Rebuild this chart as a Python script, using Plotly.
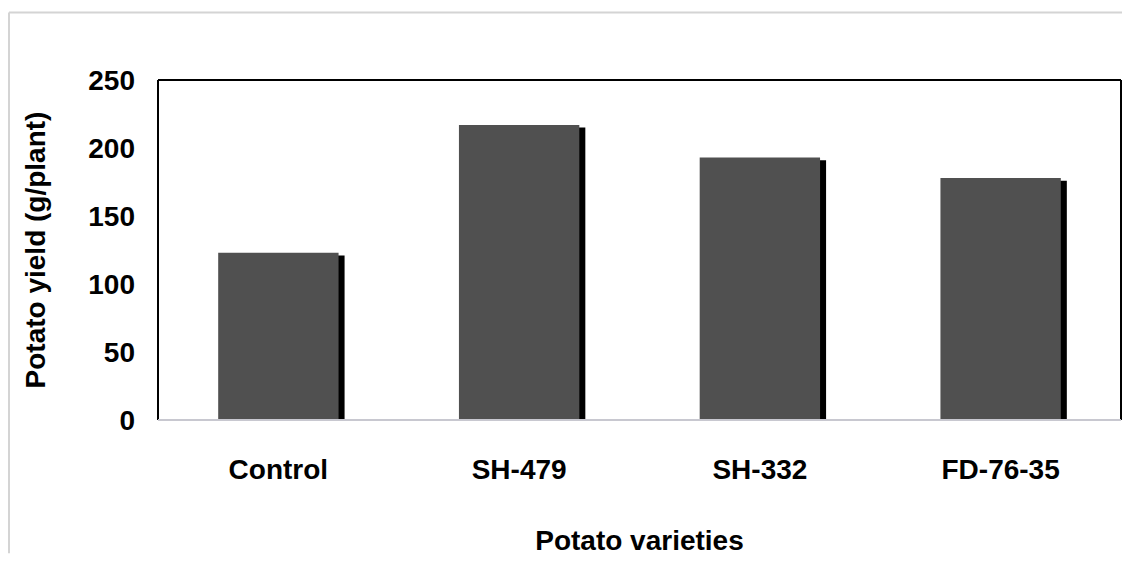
import plotly.graph_objects as go

varieties = ["Control", "SH-479", "SH-332", "FD-76-35"]
yield_g = [123, 217, 193, 178]
y_ticks = [0, 50, 100, 150, 200, 250]

FONT = "Liberation Sans, Arial, sans-serif"
# page has an 8px body margin round the figure
W, H = 1114, 548
L, R, T, B = 150, 1, 72, 134

fig = go.Figure()

# dark drop shadow behind each bar
fig.add_trace(go.Bar(
    x=varieties, y=[v - 2 for v in yield_g],
    width=0.5, offset=-0.225,
    marker=dict(color="#000000", line=dict(width=0)),
    hoverinfo="skip", showlegend=False,
))
fig.add_trace(go.Bar(
    x=varieties, y=yield_g,
    width=0.5, offset=-0.25,
    marker=dict(color="#505050", line=dict(width=0)),
    showlegend=False,
))

pw = W - L - R
ph = H - T - B
# light outer frame (only top and left edges fall inside the picture)
fx0 = (1 - L) / pw
fy1 = (H - 4 - B) / ph
fig.add_shape(type="line", xref="paper", yref="paper",
              x0=fx0, x1=(W - L) / pw, y0=fy1, y1=fy1,
              line=dict(color="#d4d4d4", width=2), layer="below")
fig.add_shape(type="line", xref="paper", yref="paper",
              x0=fx0, x1=fx0, y0=-B / ph, y1=fy1,
              line=dict(color="#d4d4d4", width=2), layer="below")
# plot box: black top/left/right, grey bottom
for x0, y0, x1, y1, c in [(0, 1, 1, 1, "#000"), (0, 0, 0, 1, "#000"),
                          (1, 0, 1, 1, "#000"), (0, 0, 1, 0, "#c8c8d0")]:
    fig.add_shape(type="line", xref="paper", yref="paper",
                  x0=x0, y0=y0, x1=x1, y1=y1, line=dict(color=c, width=2))

fig.update_layout(
    width=W, height=H,
    margin=dict(l=L, r=R, t=T, b=B),
    paper_bgcolor="white", plot_bgcolor="white",
    barmode="overlay",
    font=dict(family=FONT, color="#000"),
    xaxis=dict(
        showgrid=False, showline=False, ticks="",
        tickfont=dict(size=28, family=FONT, weight="bold"),
        ticklabelstandoff=30,
        title=dict(text="<b>Potato varieties</b>", font=dict(size=28), standoff=50),
    ),
    yaxis=dict(
        range=[0, 250], tickvals=y_ticks, showgrid=False, showline=False,
        zeroline=False, ticks="",
        tickfont=dict(size=28, family=FONT, weight="bold"),
        ticklabelstandoff=22,
        title=dict(text="<b>Potato yield (g/plant)</b>", font=dict(size=28), standoff=34),
    ),
)

fig.write_html("out.html")
